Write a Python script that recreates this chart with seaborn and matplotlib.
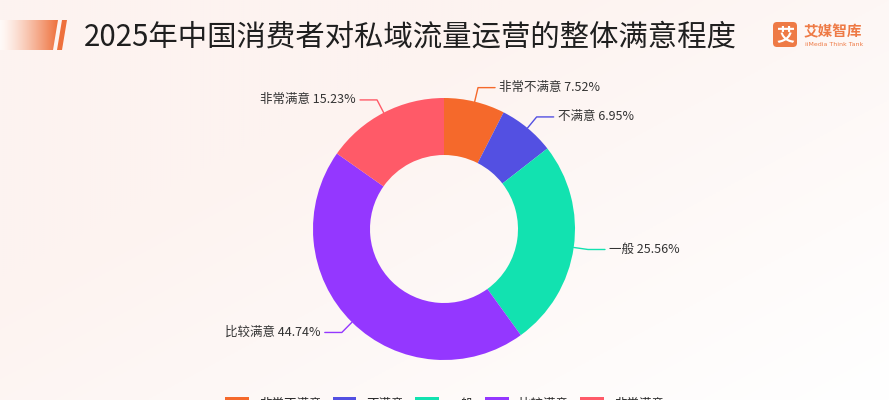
import numpy as np
import matplotlib
matplotlib.use("Agg")
import matplotlib.pyplot as plt
import seaborn as sns
from matplotlib.patches import Polygon, FancyBboxPatch, Patch

# data
labels = ["非常不满意", "不满意", "一般", "比较满意", "非常满意"]
shares = [7.52, 6.95, 25.56, 44.74, 15.23]
hex_colors = ["#F5692B", "#5350E2", "#12E2B0", "#9437FF", "#FF5A68"]
title = "2025年中国消费者对私域流量运营的整体满意程度"

sns.set_theme(style="white")
palette = sns.color_palette(hex_colors)
plt.rcParams["font.family"] = ["Noto Sans CJK SC", "DejaVu Sans"]

W, H = 889, 400
fig = plt.figure(figsize=(W / 100, H / 100), dpi=100)

# background layer in pixel coordinates
bg = fig.add_axes([0, 0, 1, 1])
bg.set_xlim(0, W)
bg.set_ylim(H, 0)
bg.axis("off")
yy, xx = np.mgrid[0:1:200j, 0:1:400j]
t = np.clip((xx * 0.6 + yy * 0.5) - 0.35, 0, 1) / 0.75
c0 = np.array([253, 243, 240]) / 255
c1 = np.array([255, 255, 255]) / 255
grad = c0 + (c1 - c0) * np.clip(t, 0, 1)[..., None]
bg.imshow(grad, extent=[0, W, H, 0], aspect="auto", zorder=0)

# title decoration: faded orange bar + slanted stripe
bar = Polygon([(0, 20), (58, 20), (53, 50), (0, 50)], closed=True,
              facecolor="none", edgecolor="none")
bg.add_patch(bar)
ramp = np.linspace(0, 1, 256)[None, :] ** 1.3
orange = np.array([238, 112, 60]) / 255
white = np.array([255, 250, 248]) / 255
bar_img = white + (orange - white) * ramp[..., None]
im = bg.imshow(bar_img, extent=[0, 58, 50, 20], aspect="auto", zorder=1)
im.set_clip_path(bar)
bg.add_patch(Polygon([(62, 20), (67, 20), (62, 50), (57, 50)], closed=True,
                     facecolor="#EE703C", edgecolor="none", zorder=2))

bg.text(84, 37, title, fontsize=21.2, color="#1f1f1f", va="center", ha="left")

# logo
bg.add_patch(FancyBboxPatch((773, 22), 24, 25, boxstyle="round,pad=0,rounding_size=4",
                            facecolor="#EE7A45", edgecolor="none", zorder=2))
bg.text(785, 35, "艾", fontsize=13, color="white", fontweight="bold",
        ha="center", va="center", zorder=3)
bg.text(804, 31, "艾媒智库", fontsize=10.5, color="#EE7A45", fontweight="bold",
        ha="left", va="center")
bg.text(805, 45, "iiMedia Think Tank", fontsize=4.5, color="#EE7A45",
        ha="left", va="center", family="DejaVu Sans")

# donut
cx, cy, R = 444, 229, 131
ax = fig.add_axes([(cx - R) / W, (H - cy - R) / H, 2 * R / W, 2 * R / H])
wedges, _ = ax.pie(shares, colors=palette, startangle=90, counterclock=False,
                   radius=1, wedgeprops=dict(width=1 - 74 / R, linewidth=0))
ax.set_xlim(-1, 1)
ax.set_ylim(-1, 1)
ax.set_aspect("equal")
ax.axis("off")

for w, lab, val, col in zip(wedges, labels, shares, palette):
    ang = np.deg2rad((w.theta1 + w.theta2) / 2)
    ca, sa = np.cos(ang), np.sin(ang)
    side = 1 if ca >= 0 else -1
    p0 = (ca * 1.0, sa * 1.0)
    p1 = (ca * 1.11, sa * 1.11)
    p2 = (p1[0] + side * 0.13, p1[1])
    ax.plot([p0[0], p1[0], p2[0]], [p0[1], p1[1], p2[1]], color=col, lw=1,
            clip_on=False)
    ax.text(p2[0] + side * 0.03, p2[1], f"{lab} {val:.2f}%", fontsize=9,
            color="#333333", ha="left" if side > 0 else "right", va="center",
            clip_on=False)

# legend, mostly below the bottom edge as in the reference
handles = [Patch(facecolor=c, edgecolor="none") for c in palette]
fig.legend(handles, labels, loc="upper center", bbox_to_anchor=(0.5, 0.022),
           ncol=5, frameon=False, fontsize=9, borderpad=0, handlelength=1.9,
           handleheight=1.1, handletextpad=0.8, columnspacing=0.9)

fig.savefig("out.png", dpi=100)
